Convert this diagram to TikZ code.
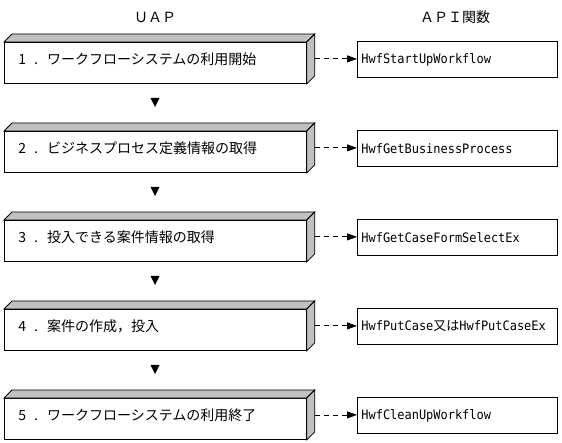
\documentclass[tikz,border=0pt]{standalone}
\usepackage{fontspec}
\setmainfont{Noto Sans CJK JP}
\newfontfamily\jpfont{Noto Sans CJK JP}
\newfontfamily\apifont[FakeStretch=0.92]{DejaVu Sans Mono}
\usetikzlibrary{arrows.meta,calc}
\definecolor{facegray}{RGB}{192,192,192}
\tikzset{
  uapbox/.style={draw=black, line width=0.8pt, fill=white, anchor=north west,
    minimum width=302pt, minimum height=41pt, text width=274pt, align=left,
    text height=10pt, text depth=6pt,
    inner xsep=14pt, inner ysep=0pt, font=\fontsize{14pt}{16pt}\selectfont},
  apibox/.style={draw=black, line width=0.8pt, fill=white, anchor=north west,
    minimum width=200pt, minimum height=36pt, text width=192pt, align=left,
    inner xsep=4pt, inner ysep=0pt, font=\apifont\fontsize{13pt}{15pt}\selectfont},
  header/.style={font=\fontsize{14pt}{16pt}\selectfont, inner sep=0pt},
  sideface/.style={draw=black, line width=0.8pt, fill=facegray},
  callarrow/.style={draw=black, line width=0.8pt, dash pattern=on 5pt off 4pt,
    -{Triangle[length=10pt,width=7pt,sep=0pt]}},
  stepmark/.style={fill=black}
}
\begin{document}
\begin{tikzpicture}[x=1pt,y=-1pt]
\useasboundingbox (0,0) rectangle (562,443);
\node[header] (huap) at (155,17) {ＵＡＰ};
\node[header] (hapi) at (455,17) {ＡＰＩ関数};
\foreach \i/\t/\a in {
  0/{1\hspace{8pt}.\hspace{9pt}ワークフローシステムの利用開始}/{HwfStartUpWorkflow},
  1/{2\hspace{8pt}.\hspace{9pt}ビジネスプロセス定義情報の取得}/{HwfGetBusinessProcess},
  2/{3\hspace{8pt}.\hspace{9pt}投入できる案件情報の取得}/{HwfGetCaseFormSelectEx},
  3/{4\hspace{8pt}.\hspace{9pt}案件の作成，投入}/{HwfPutCase{\jpfont 又は}HwfPutCaseEx},
  4/{5\hspace{8pt}.\hspace{9pt}ワークフローシステムの利用終了}/{HwfCleanUpWorkflow}} {
  \pgfmathsetmacro\yy{42+89*\i}
  \pgfmathsetmacro\ya{41+89*\i}
  \node[uapbox] (u\i) at (4,\yy) {\t};
  \draw[sideface] (u\i.north west) -- ++(8,-8) -- ($(u\i.north east)+(8,-8)$) -- (u\i.north east) -- cycle;
  \draw[sideface] (u\i.north east) -- ++(8,-8) -- ($(u\i.south east)+(8,-8)$) -- (u\i.south east) -- cycle;
  \node[apibox] (a\i) at (357,\ya) {\a};
  \coordinate (s\i) at ($(u\i.east)+(8,-4)$);
  \draw[callarrow] (s\i) -- (s\i -| a\i.west);
}
\foreach \i in {0,1,2,3} {
  \pgfmathsetmacro\yt{98+89*\i}
  \fill[stepmark] (150.5,\yt) -- (159.5,\yt) -- (155,\yt+9) -- cycle;
}
\end{tikzpicture}
\end{document}
